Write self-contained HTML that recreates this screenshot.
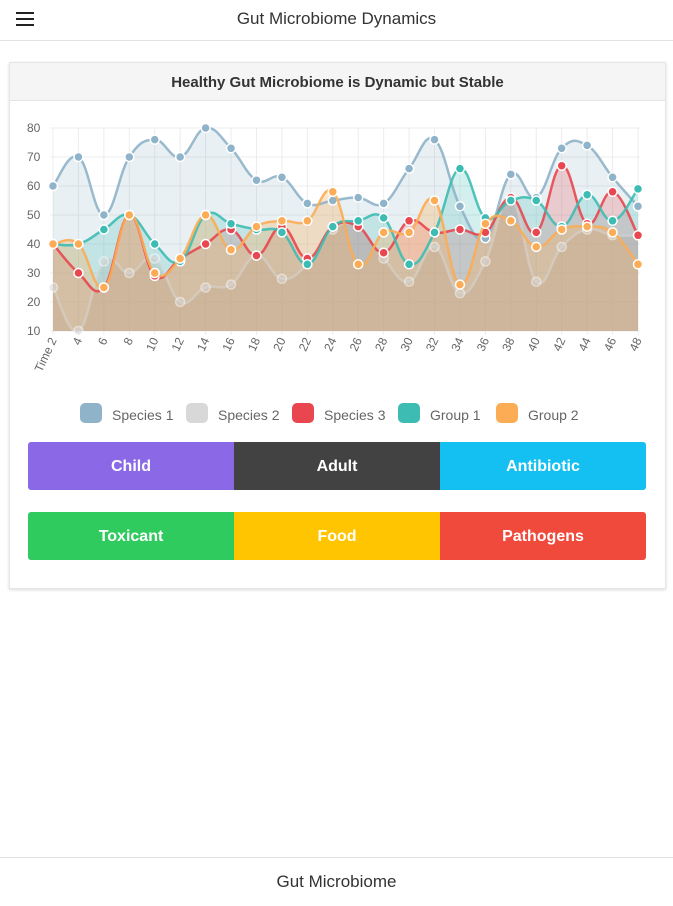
<!DOCTYPE html>
<html><head><meta charset="utf-8"><style>
body{margin:0;width:673px;height:900px;background:#fff;font-family:"Liberation Sans",sans-serif;position:relative;overflow:hidden}
.hdr{position:absolute;left:0;top:0;width:673px;height:40px;border-bottom:1px solid #e2e2e2;text-align:center;line-height:37px;font-size:17px;color:#333}
.menu{position:absolute;left:16px;top:12px;width:18px}
.menu div{height:2px;background:#222;margin-bottom:4px}
.card{position:absolute;left:9px;top:62px;width:655px;height:525px;border:1px solid #e6e6e6;box-shadow:0 1px 3px rgba(0,0,0,.15)}
.ct{height:37px;background:#f5f5f5;border-bottom:1px solid #e4e4e4;text-align:center;line-height:40px;font-size:15px;font-weight:bold;color:#333}
.row{position:absolute;left:28px;width:618px;height:48px;display:flex;border-radius:3px;overflow:hidden}
.row div{flex:1;color:#fff;font-weight:bold;font-size:16px;text-align:center;line-height:50px}
.ftr{position:absolute;left:0;top:857px;width:673px;height:43px;border-top:1px solid #e2e2e2;text-align:center;line-height:48px;font-size:17px;color:#333}
</style></head><body>
<div class="hdr"><div class="menu"><div></div><div></div><div></div></div>Gut Microbiome Dynamics</div>
<div class="card"><div class="ct">Healthy Gut Microbiome is Dynamic but Stable</div></div>
<svg id="c" style="position:absolute;left:0;top:0" width="673" height="440"></svg>
<div class="row" style="top:442px"><div style="background:#8a68e6">Child</div><div style="background:#424242">Adult</div><div style="background:#14c0f2">Antibiotic</div></div>
<div class="row" style="top:512px"><div style="background:#2fcb5e">Toxicant</div><div style="background:#ffc500">Food</div><div style="background:#ef4a3b">Pathogens</div></div>
<div class="ftr">Gut Microbiome</div>
<script>
var s=document.getElementById('c'),h='';
var X0=53,DX=(638-53)/23,Y=function(v){return 331-(v-10)*2.9};
for(var i=0;i<8;i++){var v=10+i*10,y=Y(v);h+='<line x1="50" x2="640" y1="'+y+'" y2="'+y+'" stroke="#ececec"/><text x="27" y="'+(y+4)+'" font-size="12" fill="#666">'+v+'</text>';}
for(var i=0;i<24;i++){var x=X0+i*DX;h+='<line x1="'+x+'" x2="'+x+'" y1="128" y2="335" stroke="#ececec"/>';
var l=i==0?'Time 2':String(2+2*i);h+='<text transform="translate('+(x+4)+',340) rotate(-65)" text-anchor="end" font-size="12" fill="#666">'+l+'</text>';}
var D=[
['#8fb3c9',[60,70,50,70,76,70,80,73,62,63,54,55,56,54,66,76,53,42,64,56,73,74,63,53]],
['#d8d8d8',[25,10,34,30,35,20,25,26,36,28,33,45,46,35,27,39,23,34,56,27,39,45,43,43]],
['#e8474f',[40,30,25,50,29,35,40,45,36,46,35,46,46,37,48,44,45,44,56,44,67,47,58,43]],
['#3dbcb3',[40,40,45,50,40,34,50,47,45,44,33,46,48,49,33,44,66,49,55,55,46,57,48,59]],
['#fbac55',[40,40,25,50,30,35,50,38,46,48,48,58,33,44,44,55,26,47,48,39,45,46,44,33]]];
function path(p){var d='M'+p[0][0]+','+p[0][1];for(var i=0;i<p.length-1;i++){var a=p[i-1]||p[i],b=p[i],c=p[i+1],e=p[i+2]||c,t=0.2;
d+=' C'+(b[0]+(c[0]-a[0])*t)+','+(b[1]+(c[1]-a[1])*t)+' '+(c[0]-(e[0]-b[0])*t)+','+(c[1]-(e[1]-b[1])*t)+' '+c[0]+','+c[1];}return d;}
var fills=['rgba(143,179,201,0.2)','rgba(190,180,170,0.3)','rgba(232,71,79,0.22)','rgba(61,188,179,0.22)','rgba(251,172,85,0.3)'];
var lines='';
D.forEach(function(s,k){var p=s[1].map(function(v,i){return [X0+i*DX,Y(v)]});var d=path(p);
h+='<path d="'+d+' L638,331 L53,331Z" fill="'+fills[k]+'"/>';
lines+='<path d="'+d+'" fill="none" stroke="'+s[0]+'" stroke-width="2.5" opacity="'+(k==1?0.5:0.9)+'"/>';
p.forEach(function(q){lines+='<circle cx="'+q[0]+'" cy="'+q[1]+'" r="4.5" fill="'+s[0]+'" stroke="#fff" stroke-width="1.5" opacity="'+(k==1?0.5:1)+'"/>';});});
h+=lines;
var L=[['Species 1','#8fb3c9',80],['Species 2','#d8d8d8',186],['Species 3','#e8474f',292],['Group 1','#3dbcb3',398],['Group 2','#fbac55',496]];
L.forEach(function(l){h+='<rect x="'+l[2]+'" y="403" width="22" height="20" rx="5" fill="'+l[1]+'"/><text x="'+(l[2]+32)+'" y="420" font-size="14" fill="#666">'+l[0]+'</text>';});
s.innerHTML=h;
</script>
</body></html>
